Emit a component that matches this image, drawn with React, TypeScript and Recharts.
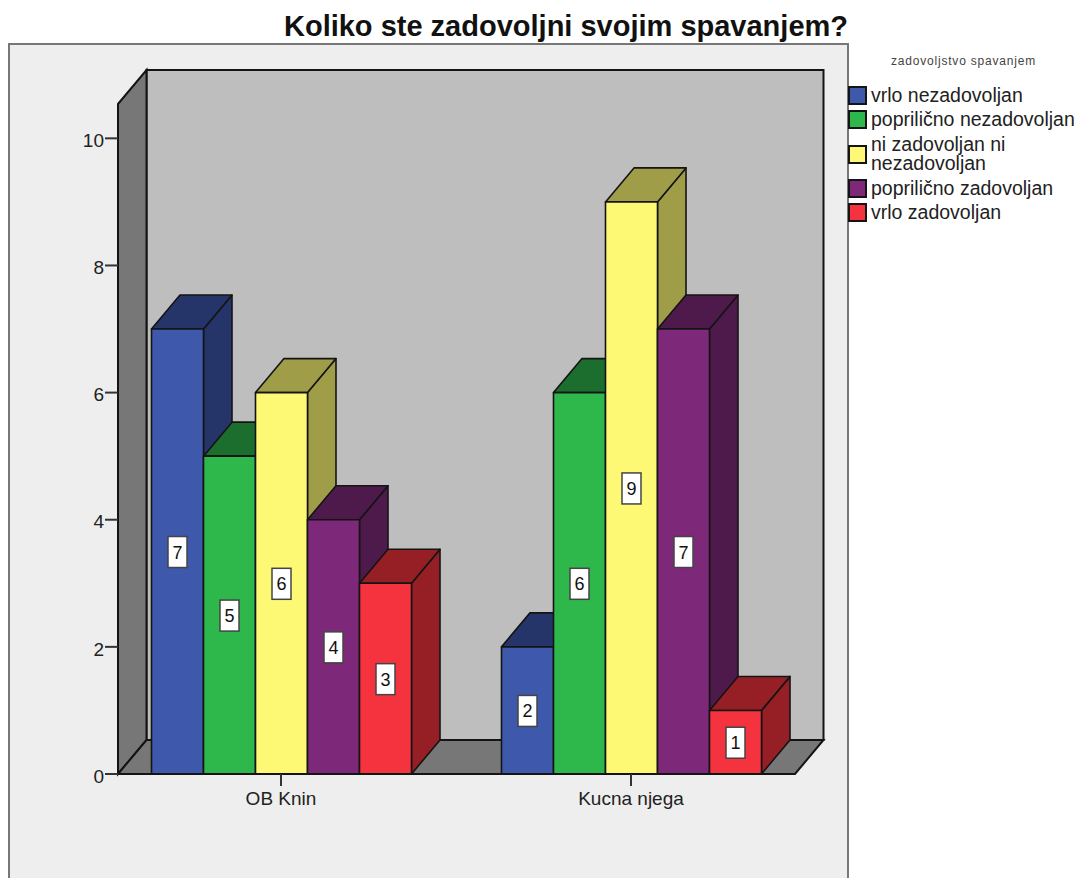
import React from 'react';
import { BarChart, Bar, XAxis, YAxis, Legend, LabelList, usePlotArea } from 'recharts';

const categories = ['OB Knin', 'Kucna njega'];
const vrloNezadovoljan = [7, 2];
const poprilicnoNezadovoljan = [5, 6];
const niNi = [6, 9];
const poprilicnoZadovoljan = [4, 7];
const vrloZadovoljan = [3, 1];
const yTicks = [0, 2, 4, 6, 8, 10];

const seriesList = [
  { name: 'vrlo nezadovoljan', values: vrloNezadovoljan, front: '#3e58ac', dark: '#253569' },
  { name: 'poprilično nezadovoljan', values: poprilicnoNezadovoljan, front: '#2eb84c', dark: '#1c6e2e' },
  { name: 'ni zadovoljan ni nezadovoljan', values: niNi, front: '#fdf975', dark: '#a09d48' },
  { name: 'poprilično zadovoljan', values: poprilicnoZadovoljan, front: '#7d2878', dark: '#4d1a4b' },
  { name: 'vrlo zadovoljan', values: vrloZadovoljan, front: '#f5333f', dark: '#951f24' },
];

const data = categories.map((name, i) => {
  const row: Record<string, any> = { name };
  seriesList.forEach((s) => {
    row[s.name] = s.values[i];
  });
  return row;
});

const DEPTH_X = 28.5;
const DEPTH_Y = 34;
const FONT = '"Liberation Sans", Arial, sans-serif';
const EDGE = '#141414';

// frame, grey walls and floor behind the bars
const Walls = () => {
  const plot = usePlotArea();
  if (!plot) return null;
  const l = plot.x;
  const r = plot.x + plot.width;
  const t = plot.y;
  const b = plot.y + plot.height;
  return (
    <g>
      <rect x={9} y={44} width={839} height={900} fill="#eeeeee" stroke="#777777" strokeWidth={2} />
      <rect x={l + DEPTH_X} y={t - DEPTH_Y} width={plot.width} height={plot.height} fill="#bebebe" stroke={EDGE} strokeWidth={2} />
      <polygon
        points={`${l},${t} ${l + DEPTH_X},${t - DEPTH_Y} ${l + DEPTH_X},${b - DEPTH_Y} ${l},${b}`}
        fill="#777777"
        stroke={EDGE}
        strokeWidth={2}
      />
      <polygon
        points={`${l},${b} ${l + DEPTH_X},${b - DEPTH_Y} ${r + DEPTH_X},${b - DEPTH_Y} ${r},${b}`}
        fill="#777777"
        stroke={EDGE}
        strokeWidth={2}
      />
      <text x={566} y={36} textAnchor="middle" fontFamily={FONT} fontWeight="bold" fontSize={29} fill="#111">
        Koliko ste zadovoljni svojim spavanjem?
      </text>
    </g>
  );
};

const Box3D = (props: any) => {
  const { x, y, width, height, fill, dark } = props;
  const right = x + width;
  const bottom = y + height;
  return (
    <g stroke={EDGE} strokeWidth={1.6} strokeLinejoin="round">
      <polygon
        points={`${right},${y} ${right + DEPTH_X},${y - DEPTH_Y} ${right + DEPTH_X},${bottom - DEPTH_Y} ${right},${bottom}`}
        fill={dark}
      />
      <polygon
        points={`${x},${y} ${x + DEPTH_X},${y - DEPTH_Y} ${right + DEPTH_X},${y - DEPTH_Y} ${right},${y}`}
        fill={dark}
      />
      <rect x={x} y={y} width={width} height={height} fill={fill} />
    </g>
  );
};

const ValueBox = (props: any) => {
  const { x, y, width, height, value } = props;
  const cx = x + width / 2;
  const cy = y + height / 2;
  return (
    <g>
      <rect x={cx - 9.5} y={cy - 15} width={19} height={31} fill="#ffffff" stroke="#444444" strokeWidth={1.5} />
      <text x={cx} y={cy + 7} textAnchor="middle" fontFamily={FONT} fontSize={18} fill="#111">
        {value}
      </text>
    </g>
  );
};

const LegendBox = () => (
  <div style={{ fontFamily: FONT, color: '#222' }}>
    <div
      style={{
        fontSize: 12,
        letterSpacing: 0.8,
        color: '#444',
        lineHeight: '14px',
        marginLeft: 43,
        width: 145,
        textAlign: 'center',
        marginBottom: 15,
        whiteSpace: 'nowrap',
      }}
    >
      zadovoljstvo spavanjem
    </div>
    {seriesList.map((s) => (
      <div key={s.name} style={{ display: 'flex', alignItems: 'center', padding: '2.5px 0' }}>
        <span
          style={{
            width: 15,
            height: 15,
            flex: 'none',
            background: s.front,
            border: `2px solid ${EDGE}`,
            marginRight: 4,
          }}
        />
        <span style={{ fontSize: 19.5, lineHeight: '19.5px', width: 207 }}>{s.name}</span>
      </div>
    ))}
  </div>
);

export default function App() {
  return (
    <div style={{ position: 'absolute', left: 0, top: 0, width: 1078, height: 878, background: '#fff', overflow: 'hidden' }}>
      <BarChart
        width={1078}
        height={878}
        data={data}
        margin={{ top: 104, right: 283, bottom: 74, left: 78 }}
        barCategoryGap={45.5}
        barGap={0}
      >
        <Walls />
        <XAxis
          dataKey="name"
          height={30}
          padding={{ left: -12, right: -11 }}
          interval={0}
          axisLine={{ stroke: EDGE, strokeWidth: 2 }}
          tickLine={{ stroke: '#333', strokeWidth: 2 }}
          tickSize={12}
          tickMargin={6}
          tick={{ fontFamily: FONT, fontSize: 19, fill: '#222' }}
        />
        <YAxis
          width={40}
          domain={[0, 10.54]}
          ticks={yTicks}
          allowDataOverflow
          axisLine={{ stroke: EDGE, strokeWidth: 2 }}
          tickLine={{ stroke: '#333', strokeWidth: 2 }}
          tickSize={13}
          tickMargin={1}
          tick={{ fontFamily: FONT, fontSize: 19, fill: '#222', dy: 2 }}
        />
        <Legend
          layout="vertical"
          align="center"
          verticalAlign="middle"
          content={<LegendBox />}
          wrapperStyle={{ left: 848, top: 54, width: 230, height: 180, margin: 0 }}
        />
        {seriesList.map((s) => (
          <Bar
            key={s.name}
            dataKey={s.name}
            fill={s.front}
            isAnimationActive={false}
            shape={(p: any) => <Box3D {...p} fill={s.front} dark={s.dark} />}
          >
            <LabelList dataKey={s.name} content={(p: any) => <ValueBox {...p} />} />
          </Bar>
        ))}
      </BarChart>
    </div>
  );
}
